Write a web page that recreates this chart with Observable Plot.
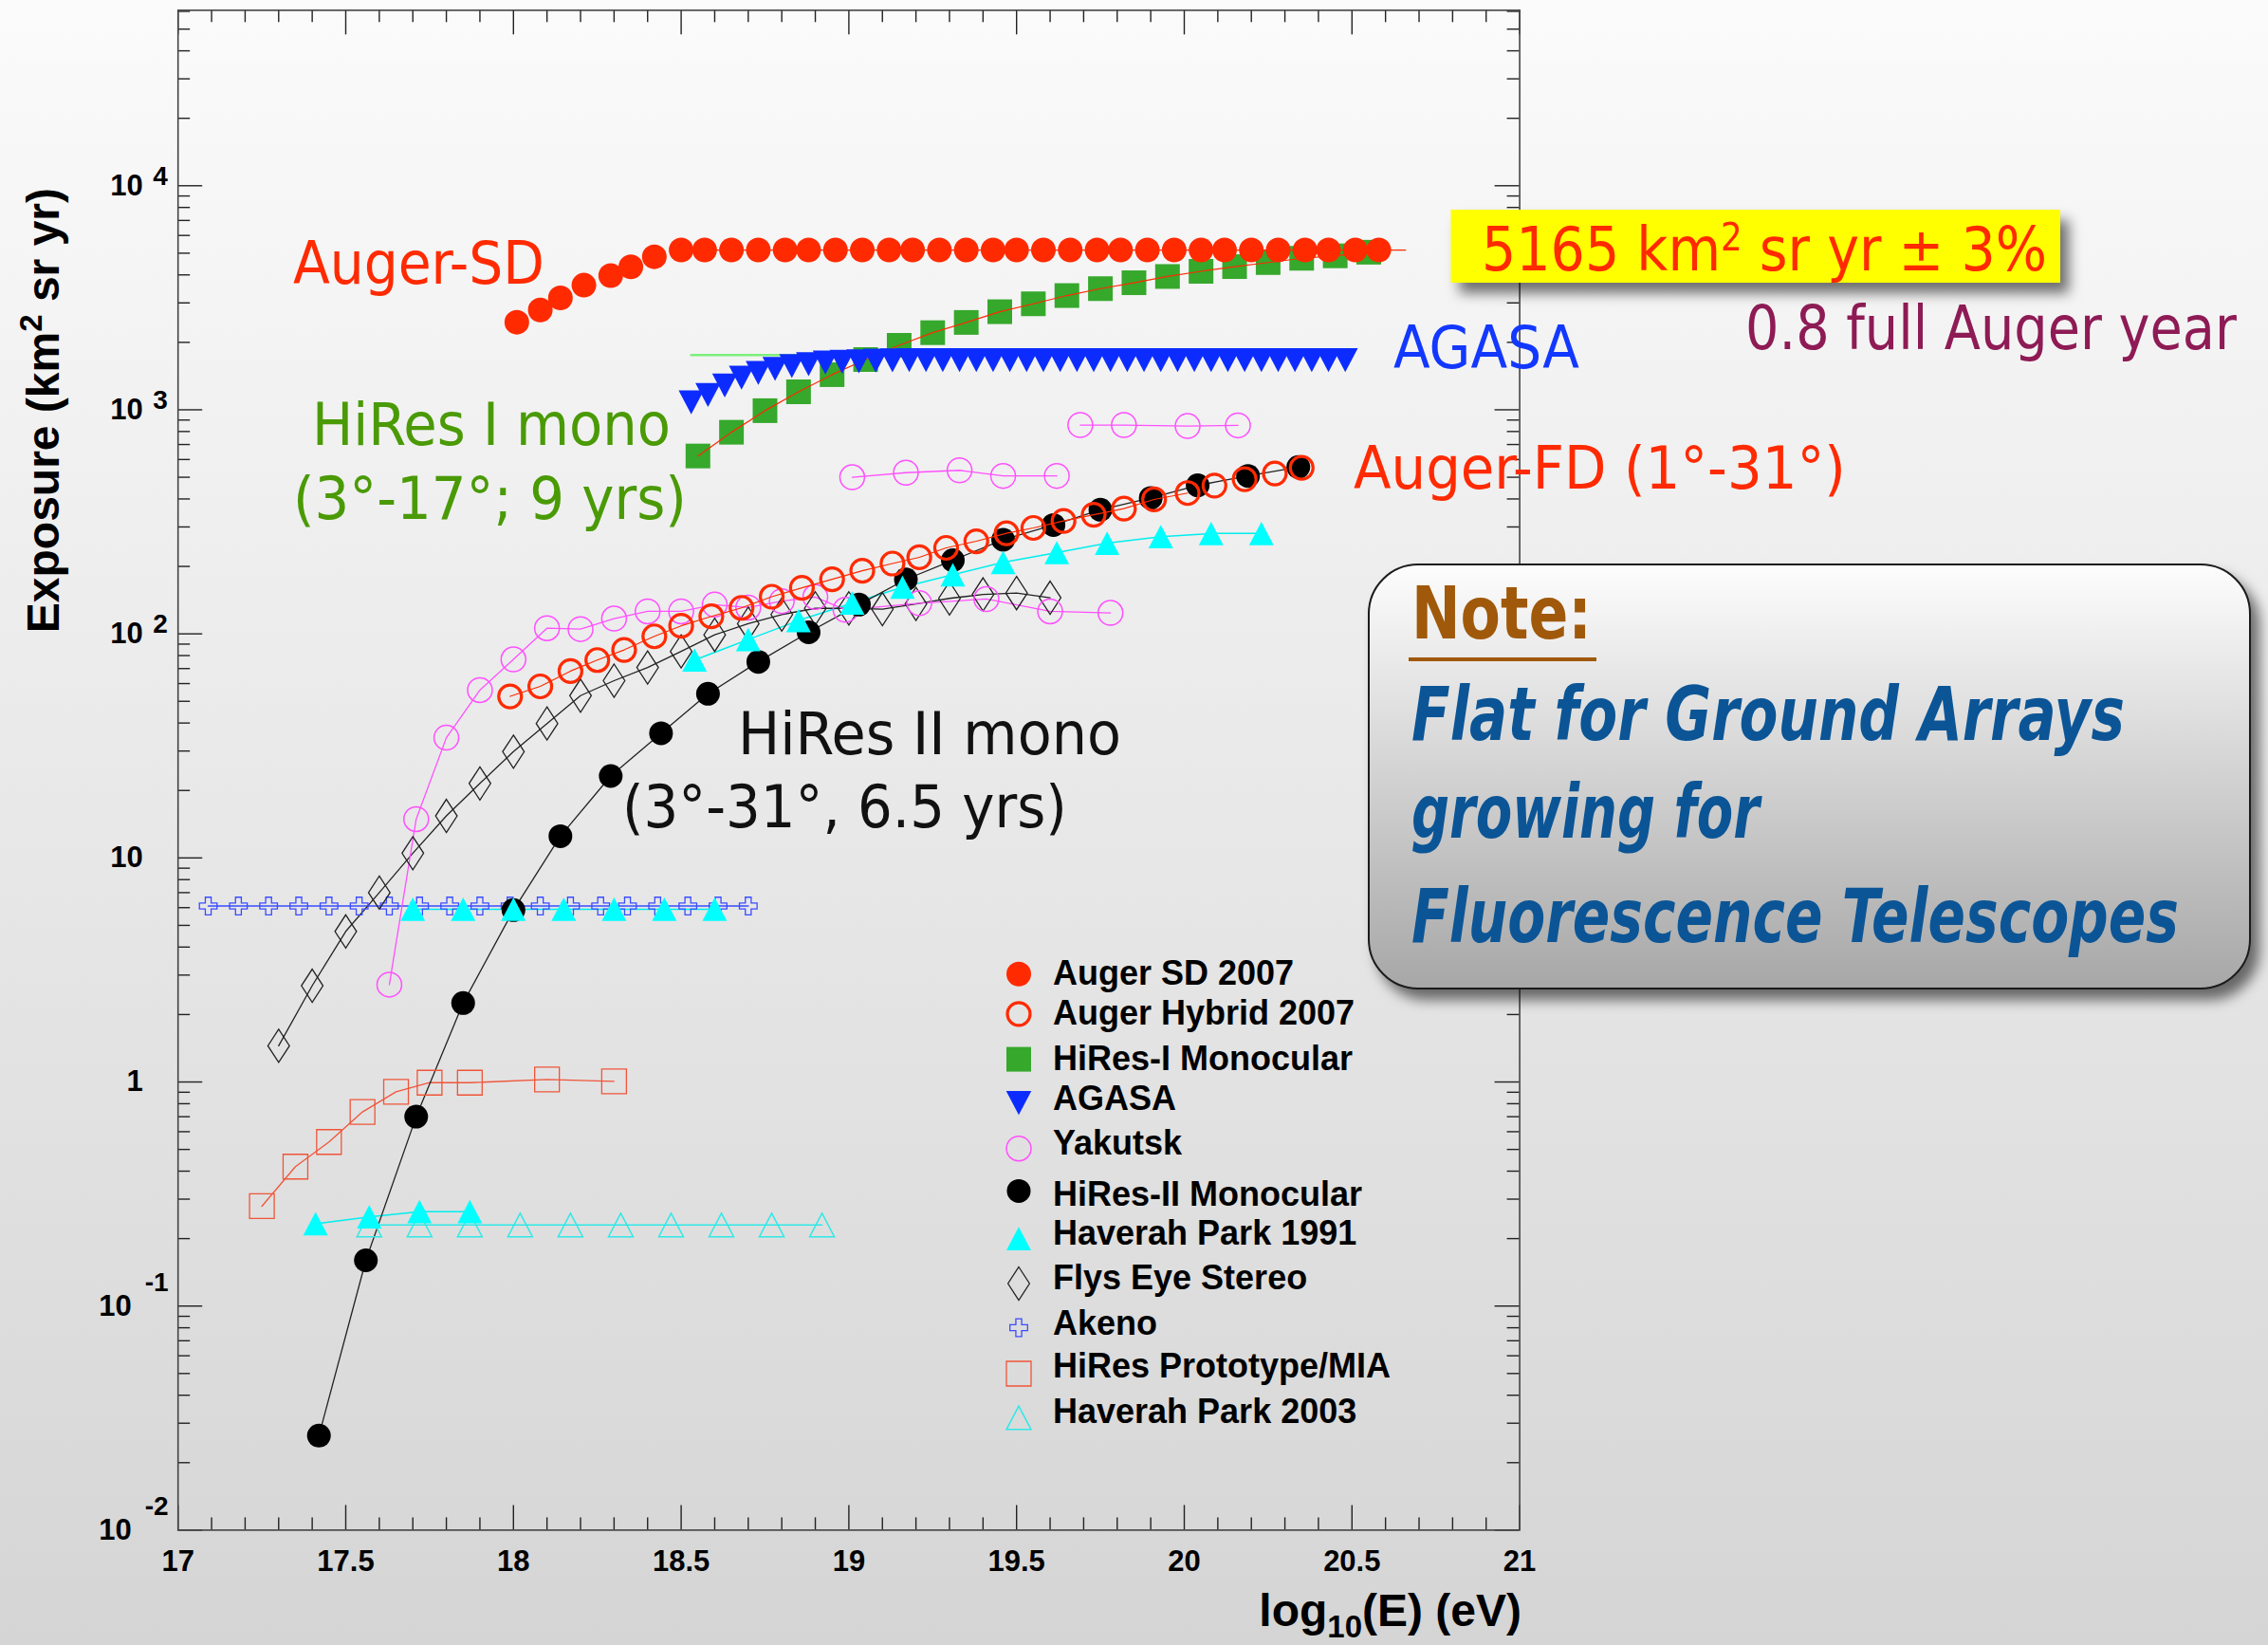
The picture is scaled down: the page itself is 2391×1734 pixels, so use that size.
<!DOCTYPE html>
<html><head><meta charset="utf-8">
<script src="https://cdn.jsdelivr.net/npm/d3@7"></script>
<script src="https://cdn.jsdelivr.net/npm/@observablehq/plot@0.6"></script>
<style>
html,body{margin:0;padding:0;}
body{width:2391px;height:1734px;overflow:hidden;background:linear-gradient(to bottom,#fbfbfb 0%,#d5d5d5 100%);}
#wrap{position:relative;width:2391px;height:1734px;}
#wrap svg{position:absolute;left:0;top:0;}
</style></head><body><div id="wrap"></div>
<script>
// ---------------- DATA ----------------
const augerSD_x = [18.01,18.08,18.14,18.21,18.29,18.35,18.42,18.50,18.57,18.65,18.73,18.81,18.88,18.96,19.04,19.12,19.19,19.27,19.35,19.43,19.50,19.58,19.66,19.74,19.81,19.89,19.97,20.05,20.12,20.20,20.28,20.36,20.43,20.51,20.58];
const augerSD_y = [2460,2790,3160,3600,3970,4345,4820,5165,5165,5165,5165,5165,5165,5165,5165,5165,5165,5165,5165,5165,5165,5165,5165,5165,5165,5165,5165,5165,5165,5165,5165,5165,5165,5165,5165];
const augerSDFit_x = [18.50, 20.66];
const augerSDFit_y = [5165, 5165];

const hybrid_x = [17.99,18.08,18.17,18.25,18.33,18.42,18.50,18.59,18.68,18.77,18.86,18.95,19.04,19.13,19.21,19.29,19.38,19.47,19.55,19.64,19.73,19.82,19.91,20.01,20.09,20.18,20.27,20.35];
const hybrid_y = [52.6,58.3,68.2,76.4,84.8,97.5,108.6,119.7,130.6,146.5,160.4,175.1,191.2,206,219.6,242,259,281,297,319,340,362,398,425,459,490,520,551];

const hires1_x = [18.55,18.65,18.75,18.85,18.95,19.05,19.15,19.25,19.35,19.45,19.55,19.65,19.75,19.85,19.95,20.05,20.15,20.25,20.35,20.45,20.55];
const hires1_y = [622,794,991,1203,1435,1676,1940,2209,2454,2740,2972,3235,3473,3690,3935,4150,4355,4540,4745,4865,5050];

const agasa_x = [18.53,18.58,18.63,18.68,18.73,18.78,18.83,18.88,18.93,18.98,19.03,19.08,19.13,19.18,19.23,19.28,19.33,19.38,19.43,19.48,19.53,19.58,19.63,19.68,19.73,19.78,19.83,19.88,19.93,19.98,20.03,20.08,20.13,20.18,20.23,20.28,20.33,20.38,20.43,20.48];
const agasa_y = [1079,1163,1283,1391,1460,1523,1568,1599,1626,1637,1646,1656,1662,1665,1665,1665,1665,1665,1665,1665,1665,1665,1665,1665,1665,1665,1665,1665,1665,1665,1665,1665,1665,1665,1665,1665,1665,1665,1665,1665];
const agasaLine_x = [18.53, 20.48];
const agasaLine_y = [1754, 1754];

const yak1_x = [17.63,17.71,17.80,17.90,18.00,18.10,18.20,18.30,18.40,18.50,18.60,18.70,18.80,18.90,18.99,19.21,19.41,19.60,19.78];
const yak1_y = [2.72,14.9,34.4,56.1,76.9,106,105,117,126,126,135,131,140,146,128,137,143,126,124];
const yak2_x = [19.01,19.17,19.33,19.46,19.62];
const yak2_y = [500,524,537,507,507];
const yak3_x = [19.69,19.82,20.01,20.16];
const yak3_y = [855,855,846,852];

const hires2_x = [17.42,17.56,17.71,17.85,18.00,18.14,18.29,18.44,18.58,18.73,18.88,19.03,19.17,19.31,19.46,19.61,19.75,19.90,20.04,20.19,20.34];
const hires2_y = [0.0264,0.160,0.70,2.25,5.85,12.5,23.2,36.0,54.0,75.0,101.6,135,175,213,263,306,358,404,460,507,555];

const hp91a_x = [17.41,17.57,17.72,17.87];
const hp91a_y = [0.233,0.250,0.264,0.264];
const hp91b_x = [17.70,17.85,18.00,18.15,18.30,18.45,18.60];
const hp91b_y = [5.9,5.9,5.9,5.9,5.9,5.9,5.9];
const hp91c_x = [18.54,18.70,18.85,19.01,19.16,19.31,19.46,19.62,19.77,19.93,20.08,20.23];
const hp91c_y = [76.4,94.3,114.7,137.2,161.5,183.6,208.4,230.5,254,271.5,280.5,280.5];

const flys_x = [17.3,17.4,17.5,17.6,17.7,17.8,17.9,18.0,18.1,18.2,18.3,18.4,18.5,18.6,18.7,18.8,18.9,19.0,19.1,19.2,19.3,19.4,19.5,19.6];
const flys_y = [1.45,2.69,4.7,7.0,10.5,15.4,21.5,29.8,39.8,53,61.8,70.8,83.5,99,111,122,130,130,129,136,144,150,152,145];

const akeno_x = [17.09,17.18,17.27,17.36,17.45,17.54,17.63,17.72,17.81,17.90,17.99,18.08,18.17,18.26,18.34,18.43,18.52,18.61,18.70];
const akeno_y = [6.1,6.1,6.1,6.1,6.1,6.1,6.1,6.1,6.1,6.1,6.1,6.1,6.1,6.1,6.1,6.1,6.1,6.1,6.1];

const mia_x = [17.25,17.35,17.45,17.55,17.65,17.75,17.87,18.10,18.30];
const mia_y = [0.279,0.419,0.54,0.735,0.904,0.993,0.993,1.026,1.007];

const hp03_x = [17.57,17.72,17.87,18.02,18.17,18.32,18.47,18.62,18.77,18.92];
const hp03_y = [0.23,0.23,0.23,0.23,0.23,0.23,0.23,0.23,0.23,0.23];

const xTickValues = [17,17.5,18,18.5,19,19.5,20,20.5,21];
const xTickLabels = ["17","17.5","18","18.5","19","19.5","20","20.5","21"];
const yTickPos = [1,10,100,1000,10000];
const yTickPosBase = ["1","10","10","10","10"];
const yTickPosExp = ["","","2","3","4"];
const yTickNeg = [0.01,0.1];
const yTickNegBase = ["10","10"];
const yTickNegExp = ["-2","-1"];

const legendLabels = ["Auger SD 2007","Auger Hybrid 2007","HiRes-I Monocular","AGASA","Yakutsk","HiRes-II Monocular","Haverah Park 1991","Flys Eye Stereo","Akeno","HiRes Prototype/MIA","Haverah Park 2003"];

// ---------------- LAYOUT ----------------
const W = 2391, H = 1734;
const ML = 187.2, MR = W - 1601.6, MT = 10.3, MB = H - 1612.4;
const X0 = 17, X1 = 21, Y0 = 0.01, Y1 = 6.07e4;
const ux = (X1 - X0) / (W - ML - MR);
const uy = Math.log10(Y1 / Y0) / (H - MT - MB);
const MAJ = 26, MIN = 13;
const FONT_AX = "'Liberation Sans', Arial, Helvetica, sans-serif";
const FONT_ANN = "'DejaVu Sans Condensed', 'DejaVu Sans', sans-serif";

// custom ROOT-like marker shapes (r = half size)
const R = s => Math.sqrt(s / Math.PI);
const symSquare = {draw(c, s){const r=R(s); c.moveTo(-r,-r); c.lineTo(r,-r); c.lineTo(r,r); c.lineTo(-r,r); c.closePath();}};
const symTriUp = {draw(c, s){const r=R(s), h=0.95*r; c.moveTo(0,-h); c.lineTo(r,h); c.lineTo(-r,h); c.closePath();}};
const symTriDown = {draw(c, s){const r=R(s), h=0.95*r; c.moveTo(-r,-h); c.lineTo(r,-h); c.lineTo(0,h); c.closePath();}};
const symDiamond = {draw(c, s){const r=R(s), w=0.65*r; c.moveTo(0,-r); c.lineTo(w,0); c.lineTo(0,r); c.lineTo(-w,0); c.closePath();}};
const symCross = {draw(c, s){const r=R(s), a=r*0.33;
  c.moveTo(-a,-r); c.lineTo(a,-r); c.lineTo(a,-a); c.lineTo(r,-a); c.lineTo(r,a); c.lineTo(a,a);
  c.lineTo(a,r); c.lineTo(-a,r); c.lineTo(-a,a); c.lineTo(-r,a); c.lineTo(-r,-a); c.lineTo(-a,-a); c.closePath();}};
const symCircle = {draw(c, s){const r=R(s); c.moveTo(r,0); c.arc(0,0,r,0,2*Math.PI); c.closePath();}};

const RED = "#ff2a00";
const ST = {
  sd:   {symbol: symCircle, r: 13, fill: RED, stroke: "none"},
  hyb:  {symbol: symCircle, r: 12, fill: "none", stroke: RED, strokeWidth: 3.2},
  h1:   {symbol: symSquare, r: 13, fill: "#36a82c", stroke: "none"},
  ag:   {symbol: symTriDown, r: 13.3, fill: "#0c2cff", stroke: "none"},
  yak:  {symbol: symCircle, r: 13, fill: "none", stroke: "#ff50ff", strokeWidth: 1.5},
  h2:   {symbol: symCircle, r: 12.5, fill: "#000", stroke: "none"},
  hp91: {symbol: symTriUp, r: 13, fill: "#00ffff", stroke: "none"},
  fly:  {symbol: symDiamond, r: 17.5, fill: "none", stroke: "#222", strokeWidth: 1.3},
  ak:   {symbol: symCross, r: 9.3, fill: "none", stroke: "#3a4cff", strokeWidth: 1.3},
  mia:  {symbol: symSquare, r: 13, fill: "none", stroke: "#f0553a", strokeWidth: 1.3},
  hp03: {symbol: symTriUp, r: 13, fill: "none", stroke: "#30e8e8", strokeWidth: 1.5}
};

const tbl = (xs, ys) => xs.map((x, i) => ({x, y: ys[i]}));
const line = (xs, ys, stroke, sw = 1.3) => Plot.line(tbl(xs, ys), {x: "x", y: "y", stroke, strokeWidth: sw});
const dots = (xs, ys, st) => Plot.dot(tbl(xs, ys), {x: "x", y: "y", ...st});

// tick positions
const yMajor = [0.01,0.1,1,10,100,1000,10000];
const yMinor = [];
for (let k = -2; k <= 4; k++) for (let m = 2; m <= 9; m++) { const v = m * Math.pow(10, k); if (v < Y1) yMinor.push(v); }
const xMinor = d3.range(171, 210).map(v => v / 10).filter(v => Math.abs(v * 2 - Math.round(v * 2)) > 1e-6);
const tk = {stroke: "#222", strokeWidth: 1.4};
const hybFitN = hybrid_x.filter(x => x <= 20.01).length;

const plot = Plot.plot({
  width: W, height: H,
  marginLeft: ML, marginRight: MR, marginTop: MT, marginBottom: MB,
  style: {background: "transparent", overflow: "visible"},
  x: {domain: [X0, X1], axis: null},
  y: {type: "log", domain: [Y0, Y1], axis: null},
  marks: [
    Plot.ruleY(yMajor, {y: d => d, x1: X0, x2: X0 + MAJ * ux, ...tk}),
    Plot.ruleY(yMinor, {y: d => d, x1: X0, x2: X0 + MIN * ux, ...tk}),
    Plot.ruleY(yMajor, {y: d => d, x1: X1 - MAJ * ux, x2: X1, ...tk}),
    Plot.ruleY(yMinor, {y: d => d, x1: X1 - MIN * ux, x2: X1, ...tk}),
    Plot.ruleX(xTickValues, {x: d => d, y1: Y0, y2: Y0 * Math.pow(10, MAJ * uy), ...tk}),
    Plot.ruleX(xMinor, {x: d => d, y1: Y0, y2: Y0 * Math.pow(10, MIN * uy), ...tk}),
    Plot.ruleX(xTickValues, {x: d => d, y1: Y1 / Math.pow(10, MAJ * uy), y2: Y1, ...tk}),
    Plot.ruleX(xMinor, {x: d => d, y1: Y1 / Math.pow(10, MIN * uy), y2: Y1, ...tk}),
    Plot.frame({stroke: "#444", strokeWidth: 1.6}),
    Plot.text(xTickValues, {x: d => d, frameAnchor: "bottom", dy: 33, lineAnchor: "middle", text: (d, i) => xTickLabels[i], fontSize: 31, fontWeight: "bold", fontFamily: FONT_AX, fill: "#000"}),
    Plot.text(yTickPos, {y: d => d, frameAnchor: "left", dx: -37, textAnchor: "end", lineAnchor: "middle", text: (d, i) => yTickPosBase[i], fontSize: 31, fontWeight: "bold", fontFamily: FONT_AX, fill: "#000"}),
    Plot.text(yTickPos, {y: d => d, frameAnchor: "left", dx: -26.5, dy: -10, textAnchor: "start", lineAnchor: "middle", text: (d, i) => yTickPosExp[i], fontSize: 28, fontWeight: "bold", fontFamily: FONT_AX, fill: "#000"}),
    Plot.text(yTickNeg, {y: d => d, frameAnchor: "left", dx: -49, textAnchor: "end", lineAnchor: "middle", text: (d, i) => yTickNegBase[i], fontSize: 31, fontWeight: "bold", fontFamily: FONT_AX, fill: "#000"}),
    Plot.text(yTickNeg, {y: d => d, frameAnchor: "left", dx: -35, dy: -25, textAnchor: "start", lineAnchor: "middle", text: (d, i) => yTickNegExp[i], fontSize: 28, fontWeight: "bold", fontFamily: FONT_AX, fill: "#000"}),
    line(mia_x, mia_y, "#f0553a"),
    line(hp03_x, hp03_y, "#30e8e8", 1.6),
    line(akeno_x, akeno_y, "#3a4cff", 1.6),
    line(hp91a_x, hp91a_y, "#00eeee", 1.5),
    line(hp91b_x, hp91b_y, "#00eeee", 1.5),
    line(hp91c_x, hp91c_y, "#00eeee", 1.5),
    line(flys_x, flys_y, "#222"),
    line(yak1_x, yak1_y, "#ff50ff"),
    line(yak2_x, yak2_y, "#ff50ff"),
    line(yak3_x, yak3_y, "#ff50ff"),
    line(hires2_x, hires2_y, "#222"),
    line(agasaLine_x, agasaLine_y, "#7cf07c", 2.5),
    dots(mia_x, mia_y, ST.mia),
    dots(hp03_x, hp03_y, ST.hp03),
    dots(akeno_x, akeno_y, ST.ak),
    dots(flys_x, flys_y, ST.fly),
    dots(yak1_x, yak1_y, ST.yak),
    dots(yak2_x, yak2_y, ST.yak),
    dots(yak3_x, yak3_y, ST.yak),
    dots(hires2_x, hires2_y, ST.h2),
    dots(hp91a_x, hp91a_y, ST.hp91),
    dots(hp91b_x, hp91b_y, ST.hp91),
    dots(hp91c_x, hp91c_y, ST.hp91),
    dots(hybrid_x, hybrid_y, ST.hyb),
    line(hybrid_x.slice(0, hybFitN), hybrid_y.slice(0, hybFitN), RED, 1.2),
    dots(hires1_x, hires1_y, ST.h1),
    line(hires1_x, hires1_y, RED, 1.2),
    dots(agasa_x, agasa_y, ST.ag),
    line(augerSDFit_x, augerSDFit_y, RED, 1.2),
    dots(augerSD_x, augerSD_y, ST.sd)
  ]
});
document.getElementById("wrap").appendChild(plot);

// ---------------- OVERLAY: titles, annotations, legend ----------------
const ov = d3.select("#wrap").append("svg").attr("width", W).attr("height", H);
const defs = ov.append("defs");
defs.append("filter").attr("id", "sh").attr("x", "-10%").attr("y", "-20%").attr("width", "130%").attr("height", "160%")
  .append("feDropShadow").attr("dx", 9).attr("dy", 11).attr("stdDeviation", 7).attr("flood-color", "#000").attr("flood-opacity", 0.55);
const ng = defs.append("linearGradient").attr("id", "ng").attr("x1", 0).attr("y1", 0).attr("x2", 0).attr("y2", 1);
ng.append("stop").attr("offset", "0%").attr("stop-color", "#fdfdfd");
ng.append("stop").attr("offset", "100%").attr("stop-color", "#a7a7a7");

// text fitted to a target width by a horizontal scale (keeps real text and a true bounding box)
function label(parts, o) {
  const g = ov.append("g");
  const t = g.append("text").attr("x", 0).attr("y", 0).attr("font-size", o.size).attr("fill", o.fill)
    .attr("font-family", o.family || FONT_ANN).attr("font-weight", o.weight || "normal")
    .attr("font-style", o.style || "normal").style("font-stretch", o.stretch || "condensed");
  if (typeof parts === "string") t.text(parts);
  else parts.forEach(p => { const ts = t.append("tspan").text(p.t); if (p.dy) ts.attr("dy", p.dy); if (p.size) ts.attr("font-size", p.size); });
  let sx = 1;
  if (o.len) { const w = t.node().getComputedTextLength(); if (w > 0) sx = o.len / w; }
  g.attr("transform", `translate(${o.x},${o.y}) scale(${sx},1)`);
  return g;
}

// axis titles
const yt = ov.append("text").attr("transform", "translate(62,198) rotate(-90)").attr("text-anchor", "end")
  .attr("font-family", FONT_AX).attr("font-weight", "bold").attr("font-size", 48).attr("fill", "#000");
yt.append("tspan").text("Exposure (km");
yt.append("tspan").attr("dy", -18).attr("font-size", 33).text("2");
yt.append("tspan").attr("dy", 18).text(" sr yr)");
const xt = ov.append("text").attr("x", 1604).attr("y", 1714).attr("text-anchor", "end")
  .attr("font-family", FONT_AX).attr("font-weight", "bold").attr("font-size", 48).attr("fill", "#000");
xt.append("tspan").text("log");
xt.append("tspan").attr("dy", 12).attr("font-size", 33).text("10");
xt.append("tspan").attr("dy", -12).text("(E) (eV)");

// in-plot annotations
label("Auger-SD", {x: 309, y: 298.5, size: 62, fill: RED, len: 265});
label("HiRes I mono", {x: 329, y: 469, size: 62, fill: "#4a9a06", len: 378});
label("(3°-17°; 9 yrs)", {x: 309, y: 547, size: 62, fill: "#4a9a06", len: 415});
label("AGASA", {x: 1469, y: 388, size: 62, fill: "#1238ff", len: 196});
label("Auger-FD (1°-31°)", {x: 1427, y: 515, size: 62, fill: RED, len: 519});
label("HiRes II mono", {x: 778, y: 795, size: 62, fill: "#111", len: 404});
label("(3°-31°, 6.5 yrs)", {x: 656, y: 872, size: 62, fill: "#111", len: 469});
label("0.8 full Auger year", {x: 1840, y: 368, size: 64, fill: "#8e1b55", len: 518});

// yellow box
ov.append("rect").attr("x", 1529.5).attr("y", 221).attr("width", 642.5).attr("height", 77).attr("fill", "#ffff00").attr("filter", "url(#sh)");
label([{t: "5165 km"}, {t: "2", dy: -21, size: 40}, {t: " sr yr ± 3%", dy: 21}], {x: 1562, y: 285, size: 64, fill: RED, len: 596});

// note box
ov.append("rect").attr("x", 1443).attr("y", 595).attr("width", 929).attr("height", 447).attr("rx", 52).attr("ry", 52)
  .attr("fill", "url(#ng)").attr("stroke", "#1a1a1a").attr("stroke-width", 2).attr("filter", "url(#sh)");
const NF = "'DejaVu Sans Condensed', 'DejaVu Sans', sans-serif";
label("Note:", {x: 1488, y: 673, size: 76, fill: "#a0590a", family: NF, weight: "bold", len: 190});
ov.append("rect").attr("x", 1485).attr("y", 693).attr("width", 198).attr("height", 4).attr("fill", "#a0590a");
label("Flat for Ground Arrays", {x: 1488, y: 780, size: 78, fill: "#0b5596", family: NF, weight: "bold", style: "italic", len: 752});
label("growing for", {x: 1488, y: 883, size: 78, fill: "#0b5596", family: NF, weight: "bold", style: "italic", len: 367});
label("Fluorescence Telescopes", {x: 1488, y: 993, size: 78, fill: "#0b5596", family: NF, weight: "bold", style: "italic", len: 809});

// legend
const legStyles = [ST.sd, ST.hyb, ST.h1, ST.ag, ST.yak, ST.h2, ST.hp91, ST.fly, ST.ak, ST.mia, ST.hp03];
const legMarkY = [1026.7, 1068.8, 1116.6, 1162.6, 1210.7, 1255.4, 1305.7, 1353, 1399.5, 1448, 1494.5];
const legTextY = [1038, 1080, 1128, 1170, 1217, 1271, 1312, 1358.5, 1407, 1452.4, 1500];
legendLabels.forEach((name, i) => {
  const st = legStyles[i];
  const p = d3.path();
  st.symbol.draw(p, Math.PI * st.r * st.r);
  ov.append("path").attr("d", p.toString()).attr("transform", `translate(1074,${legMarkY[i]})`)
    .attr("fill", st.fill).attr("stroke", st.stroke || "none").attr("stroke-width", st.strokeWidth || 0);
  ov.append("text").attr("x", 1110).attr("y", legTextY[i]).attr("font-family", FONT_AX).attr("font-weight", "bold")
    .attr("font-size", 36).attr("fill", "#000").text(name);
});
</script></body></html>
